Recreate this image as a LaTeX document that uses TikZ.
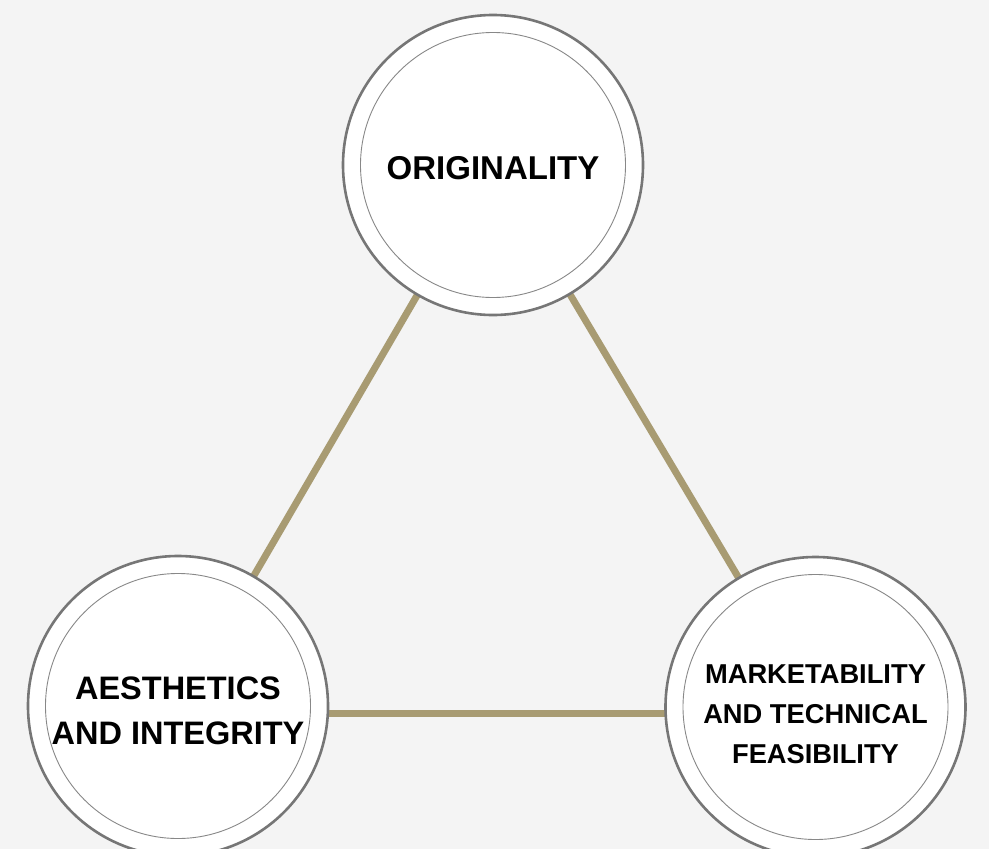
\documentclass[tikz,border=0pt]{standalone}
\usepackage{fontspec}
\setmainfont{Liberation Sans}
\usepackage{tikz}
\usetikzlibrary{positioning, backgrounds}
\definecolor{bgColor}{RGB}{244, 244, 244}
\definecolor{linkColor}{RGB}{168, 155, 114}
\definecolor{ringColor}{RGB}{118, 118, 118}
\definecolor{innerRing}{RGB}{136, 136, 136}
\tikzset{
    outer_ring/.style={
        circle,
        draw=ringColor,
        line width=2.6pt,
        fill=white,
        minimum size=300pt,
        inner sep=0pt
    },
    inner_ring/.style={
        circle,
        draw=innerRing,
        line width=0.9pt,
        minimum size=265pt,
        inner sep=0pt
    },
    ring_text/.style={
        align=center,
        inner sep=0pt
    },
    link/.style={
        draw=linkColor,
        line width=7pt
    }
}
\begin{document}
\begin{tikzpicture}[x=1pt, y=-1pt]
        \fill[bgColor] (0,0) rectangle (989,849);
        \useasboundingbox (0,0) rectangle (989,849);
        \clip (0,0) rectangle (989,849);

        \coordinate (top) at (493,165);
        \coordinate (left) at (178,706);
        \coordinate (right) at (815.5,707);

        \draw[link] (top) -- (left);
        \draw[link] (top) -- (right);
        \draw[link] ([yshift=-7pt]left) -- ([yshift=-6pt]right);

        \node[outer_ring] (orig) at (top) {};
        \node[inner_ring] (origin) at (orig) {};
        \node[ring_text, font=\fontsize{33}{38}\selectfont\bfseries, yshift=-3pt] (origtext) at (orig) {ORIGINALITY};

        \node[outer_ring] (aes) at (left) {};
        \node[inner_ring] (aesin) at (aes) {};
        \node[ring_text, font=\fontsize{32.5}{45}\selectfont\bfseries, yshift=-5pt] (aestext) at (aes) {AESTHETICS\\AND INTEGRITY};

        \node[outer_ring] (mkt) at (right) {};
        \node[inner_ring] (mktin) at (mkt) {};
        \node[ring_text, font=\fontsize{27.3}{40}\selectfont\bfseries, yshift=-7pt] (mkttext) at (mkt) {MARKETABILITY\\AND TECHNICAL\\FEASIBILITY};
    \end{tikzpicture}
\end{document}
